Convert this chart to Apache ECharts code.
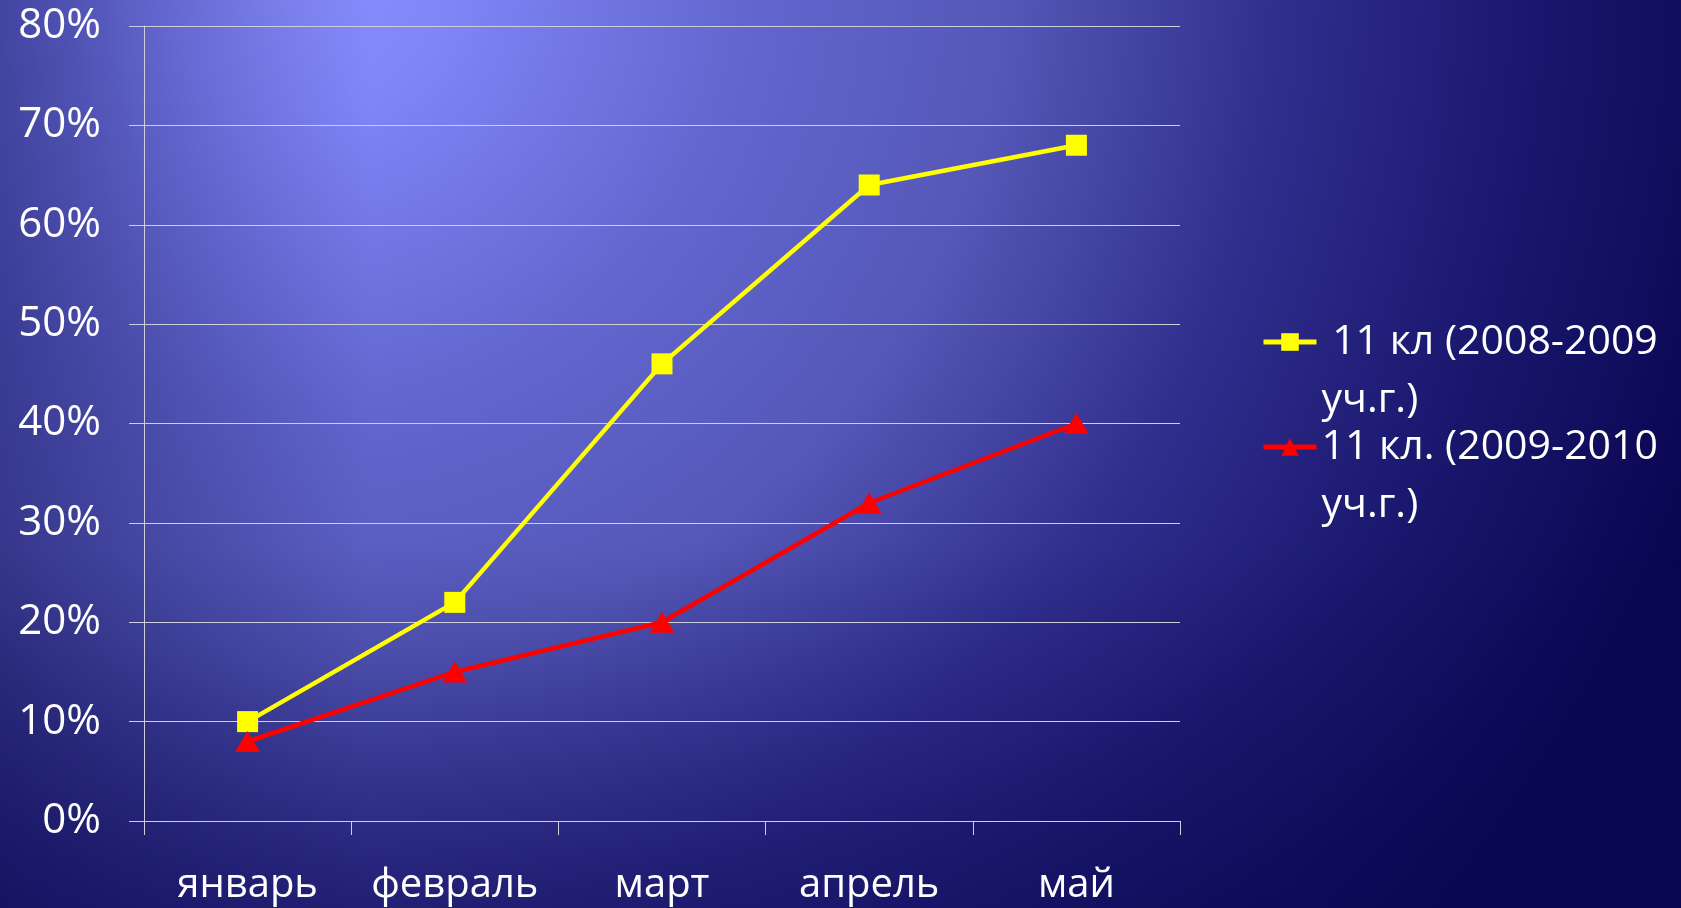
<!DOCTYPE html>
<html>
<head>
<meta charset="utf-8">
<script src="https://cdn.jsdelivr.net/npm/echarts@6/dist/echarts.min.js"></script>
<style>
  html, body { margin: 0; padding: 0; background: #0a0a5a; }
  #chart { width: 1681px; height: 908px; }
</style>
</head>
<body>
<div id="chart"></div>
<script>
// Months of the school term
const months = ['январь', 'февраль', 'март', 'апрель', 'май'];

// Share of students, percent
const class2008 = [10, 22, 46, 64, 68];
const class2010 = [8, 15, 20, 32, 40];

// Series names (the first one carries a leading space, as printed)
const nameA = ' 11 кл (2008-2009 уч.г.)';
const nameB = '11 кл. (2009-2010 уч.г.)';

// Value axis range
const yMin = 0;
const yMax = 80;
const yStep = 10;

const FONT = '"Open Sans", "Noto Sans", sans-serif';
const LH = 58;

const chart = echarts.init(document.getElementById('chart'), null, { renderer: 'canvas' });

// One legend block per series; a blank first line keeps the
// label's first line level with the icon.
function legendFor(name, top) {
  return {
    show: true,
    data: [name],
    left: 1261,
    top: top,
    padding: 0,
    orient: 'vertical',
    itemWidth: 53,
    itemHeight: 22,
    selectedMode: false,
    lineStyle: { width: 5 },
    formatter: n => ' \n' + n.replace(' уч.г.)', '\nуч.г.)'),
    textStyle: {
      color: '#ffffff',
      fontFamily: FONT,
      fontSize: 41,
      lineHeight: LH
    }
  };
}

const option = {
  backgroundColor: {
    type: 'radial', x: 300, y: -40, r: 1500, global: true,
    colorStops: [
      { offset: 0, color: '#8a8fff' },
      { offset: 0.1, color: '#8085f8' },
      { offset: 0.3, color: '#6266ce' },
      { offset: 0.47, color: '#5558b8' },
      { offset: 0.65, color: '#312f8e' },
      { offset: 0.8, color: '#1c1a72' },
      { offset: 1, color: '#080650' }
    ]
  },
  animation: false,
  graphic: [
    {
      type: 'rect', z: -10, silent: true,
      shape: { x: 0, y: 0, width: 1681, height: 908 },
      style: {
        fill: {
          type: 'linear', x: 0, y: 0, x2: 1, y2: 0,
          colorStops: [
            { offset: 0, color: 'rgba(12,10,80,0.45)' },
            { offset: 0.22, color: 'rgba(12,10,80,0)' },
            { offset: 1, color: 'rgba(12,10,80,0)' }
          ]
        }
      }
    },
    {
      type: 'rect', z: -10, silent: true,
      shape: { x: 0, y: 0, width: 1681, height: 908 },
      style: {
        fill: {
          type: 'linear', x: 0, y: 0, x2: 0, y2: 1,
          colorStops: [
            { offset: 0, color: 'rgba(10,8,80,0)' },
            { offset: 0.6, color: 'rgba(10,8,80,0)' },
            { offset: 1, color: 'rgba(10,8,80,0.45)' }
          ]
        }
      }
    }
  ],
  legend: [legendFor(nameA, 255), legendFor(nameB, 360)],
  grid: { left: 144, right: 501, top: 26, bottom: 87 },
  xAxis: {
    type: 'category',
    data: months,
    boundaryGap: true,
    axisLine: { show: true, lineStyle: { color: '#cfcfdc', width: 1 } },
    axisTick: { show: true, interval: 0, length: 14, lineStyle: { color: '#cfcfdc', width: 1 } },
    axisLabel: { color: '#ffffff', fontFamily: FONT, fontSize: 40, margin: 45, interval: 0 },
    splitLine: { show: false }
  },
  yAxis: {
    type: 'value',
    min: yMin, max: yMax, interval: yStep,
    axisLine: { show: true, lineStyle: { color: '#cfcfdc', width: 1 } },
    axisTick: { show: true, length: 15, lineStyle: { color: '#cfcfdc', width: 1 } },
    axisLabel: { color: '#ffffff', fontFamily: FONT, fontSize: 42, margin: 43, formatter: '{value}%' },
    splitLine: { show: true, lineStyle: { color: '#cfcfdc', width: 1 } }
  },
  series: [
    {
      name: nameA,
      type: 'line',
      data: class2008,
      symbol: 'rect',
      symbolSize: 21,
      lineStyle: { color: '#ffff00', width: 4.5 },
      itemStyle: { color: '#ffff00' },
      z: 3
    },
    {
      name: nameB,
      type: 'line',
      data: class2010,
      symbol: 'triangle',
      symbolSize: [25, 21],
      lineStyle: { color: '#ff0000', width: 4.5 },
      itemStyle: { color: '#ff0000' },
      z: 4
    }
  ]
};

chart.setOption(option);
</script>
</body>
</html>
